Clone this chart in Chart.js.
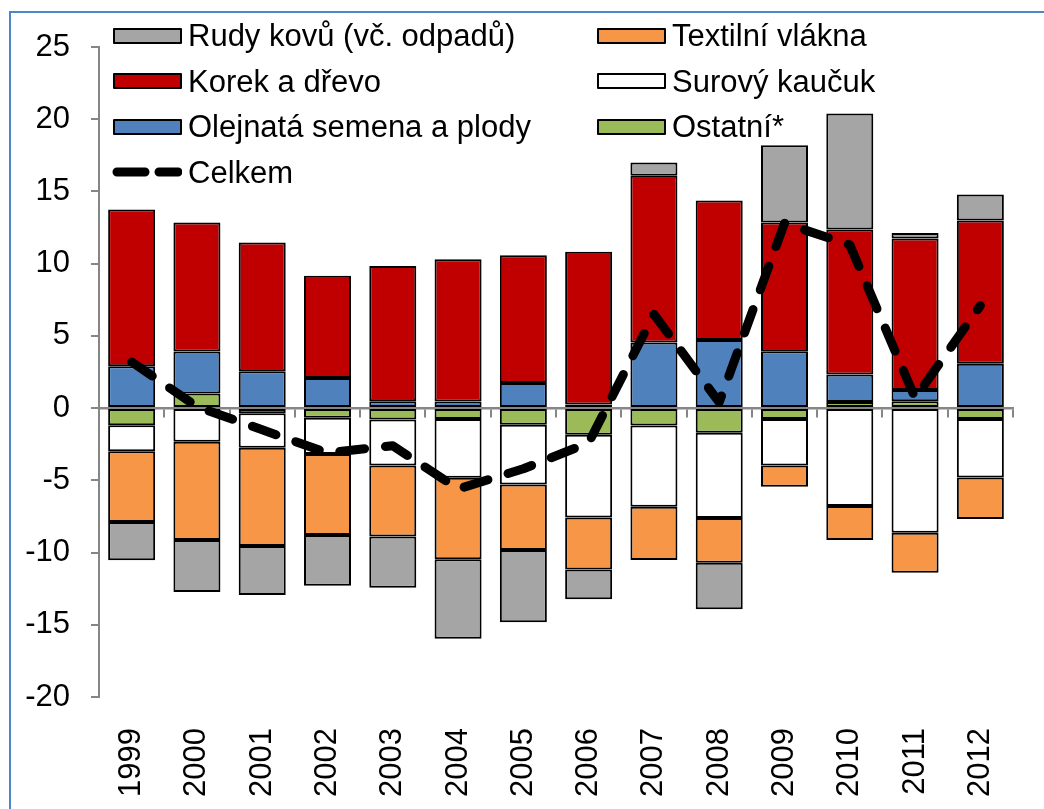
<!DOCTYPE html>
<html lang="cs">
<head>
<meta charset="utf-8">
<title>Saldo - suroviny</title>
<script src="https://cdn.jsdelivr.net/npm/chart.js@4.4.1/dist/chart.umd.min.js"></script>
<style>
    html, body { margin: 0; padding: 0; background: #fff; }
    #wrap {
        position: relative; width: 1044px; height: 809px; overflow: hidden;
        font-family: "Liberation Sans", Arial, sans-serif;
    }
    #frame {
        position: absolute; left: 9px; top: 11px; right: -10px; bottom: -10px;
        border-left: 2px solid #4a86c8; border-top: 2px solid #4a86c8;
    }
    canvas { position: absolute; left: 0; top: 0; }
    .leg {
        position: absolute; height: 40px; display: flex; align-items: center;
        font-size: 31px; color: #000; white-space: nowrap; line-height: 1;
    }
    .sw { width: 65px; height: 12px; border: 2px solid #000; border-radius: 1px; margin-right: 6px; }
    .leg svg { margin-right: 6px; }
</style>
</head>
<body>
<div id="wrap">
    <div id="frame"></div>
    <canvas id="chart" width="1044" height="809"></canvas>
    <div id="legend"></div>
</div>
<script>
// ── Data ──────────────────────────────────────────────────────────────────────

const years = ["1999", "2000", "2001", "2002", "2003", "2004", "2005",
               "2006", "2007", "2008", "2009", "2010", "2011", "2012"];

// stacked from zero outward, in this order
const ostatni  = [-1.18, 1.02, -0.35, -0.67, -0.78, -0.76, -1.15, -1.85, -1.20, -1.71, -0.76, 0.42, 0.48, -0.76];
const olejnata = [2.90, 2.90, 2.56, 2.08, 0.48, 0.46, 1.73, 0.25, 4.55, 4.71, 3.94, 1.91, 0.77, 3.07];
const kaucuk   = [-1.80, -2.33, -2.40, -2.51, -3.19, -4.06, -4.13, -5.72, -5.63, -5.90, -3.21, -6.78, -8.63, -4.04];
const textil   = [-4.91, -6.80, -6.80, -5.61, -4.91, -5.65, -4.55, -3.60, -3.69, -3.09, -1.47, -2.35, -2.77, -2.88];
const korek    = [10.85, 8.93, 8.91, 7.08, 9.35, 9.85, 8.86, 10.57, 11.53, 9.66, 8.91, 10.04, 10.49, 9.92];
const rudy     = [-2.65, -3.60, -3.39, -3.51, -3.55, -5.49, -5.00, -2.07, 0.92, -3.23, 5.35, 8.03, 0.39, 1.80];
const celkem   = [3.2, 0.1, -1.5, -3.1, -2.6, -5.6, -4.2, -2.4, 6.5, 0.4, 12.8, 11.3, 0.7, 7.1];

const yTicks = { min: -20, max: 25, step: 5 };

// ── Series / colours ──────────────────────────────────────────────────────────

const series = [
    { label: "Ostatní*",                  data: ostatni,  color: "#9bbb59" },
    { label: "Olejnatá semena a plody",   data: olejnata, color: "#4f81bd" },
    { label: "Surový kaučuk",             data: kaucuk,   color: "#ffffff" },
    { label: "Textilní vlákna",           data: textil,   color: "#f79646" },
    { label: "Korek a dřevo",             data: korek,    color: "#c00000" },
    { label: "Rudy kovů (vč. odpadů)",    data: rudy,     color: "#a5a5a5" },
];

// legend grid as in the original: two columns, four rows
const legendLayout = [
    ["Rudy kovů (vč. odpadů)", 0, 0], ["Textilní vlákna", 1, 0],
    ["Korek a dřevo", 0, 1],          ["Surový kaučuk", 1, 1],
    ["Olejnatá semena a plody", 0, 2], ["Ostatní*", 1, 2],
    ["Celkem", 0, 3],
];

const FONT = "'Liberation Sans', Arial, sans-serif";
const AXIS_GREY = "#868686";

// ── Chart ─────────────────────────────────────────────────────────────────────

const datasets = series.map(s => ({
    type: "bar",
    label: s.label,
    data: s.data,
    backgroundColor: s.color,
    borderColor: "#000",
    borderWidth: 2,
    borderSkipped: false,
    barPercentage: 0.72,
    categoryPercentage: 1,
    order: 1,
}));

datasets.push({
    type: "line",
    label: "Celkem",
    data: celkem,
    stack: "total",
    borderColor: "#000",
    borderWidth: 9,
    borderDash: [25, 21],
    borderCapStyle: "round",
    borderJoinStyle: "round",
    pointRadius: 0,
    tension: 0,
    fill: false,
    order: 0,
});

new Chart(document.getElementById("chart"), {
    type: "bar",
    data: { labels: years, datasets },
    options: {
        responsive: false,
        animation: false,
        devicePixelRatio: 1,
        layout: { padding: { top: 47, right: 31, bottom: 0, left: 0 } },
        plugins: { legend: { display: false }, tooltip: { enabled: false } },
        scales: {
            x: {
                stacked: true,
                grid: { display: false, drawTicks: false },
                border: { display: false },
                ticks: {
                    autoSkip: false, maxRotation: 90, minRotation: 90,
                    padding: 31, color: "#000",
                    font: { family: FONT, size: 31 },
                },
                afterFit: scale => {
                    scale.height = 112;
                    // rotated labels fit inside their own columns
                    scale.paddingLeft = 0;
                    scale.paddingRight = 0;
                },
            },
            // zero line with the small category ticks hanging below it
            x0: {
                type: "category",
                axis: "x",
                labels: years,
                offset: true,
                position: { y: 0 },
                grid: {
                    drawOnChartArea: false, drawTicks: true, tickLength: 8,
                    color: AXIS_GREY, lineWidth: 2, offset: true,
                },
                border: { display: true, color: AXIS_GREY, width: 2.5 },
                ticks: { display: false },
                afterFit: scale => {
                    scale.paddingLeft = 0;
                    scale.paddingRight = 0;
                },
            },
            y: {
                stacked: true,
                min: yTicks.min,
                max: yTicks.max,
                grid: {
                    drawOnChartArea: false, drawTicks: true, tickLength: 8,
                    color: AXIS_GREY, lineWidth: 2,
                },
                border: { display: true, color: AXIS_GREY, width: 2 },
                ticks: {
                    stepSize: yTicks.step, padding: 21, color: "#000",
                    font: { family: FONT, size: 31 },
                },
                afterFit: scale => { scale.width = 99; },
            },
        },
    },
});

// ── Legend (HTML, laid over the plot) ─────────────────────────────────────────

const legendEl = document.getElementById("legend");
const colLeft = [113, 597];
const rowMid  = [35.5, 81, 126.5, 172];

legendLayout.forEach(([name, col, row]) => {
    const item = document.createElement("div");
    item.className = "leg";
    item.style.left = colLeft[col] + "px";
    item.style.top  = (rowMid[row] - 20) + "px";

    const s = series.find(x => x.label === name);
    if (s) {
        item.innerHTML = `<span class="sw" style="background:${s.color}"></span>${name}`;
    } else {
        // dashed line sample for the total
        item.innerHTML =
            `<svg width="70" height="20"><line x1="5" y1="10" x2="66" y2="10" stroke="#000"
              stroke-width="9" stroke-linecap="round" stroke-dasharray="28 14"/></svg>${name}`;
        item.style.left = (colLeft[col] - 1) + "px";
    }
    legendEl.appendChild(item);
});
</script>
</body>
</html>
